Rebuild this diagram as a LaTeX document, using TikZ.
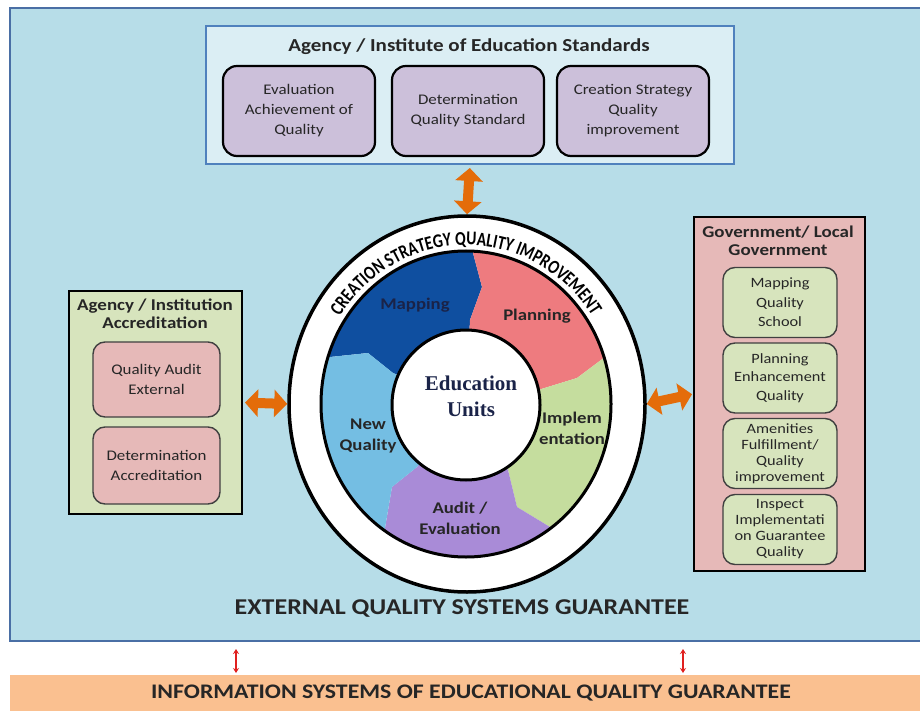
\documentclass[tikz,border=0pt]{standalone}
\usepackage{fontspec}
\setmainfont{Carlito}[FakeStretch=1.15]
\newfontfamily\ringfamily{Carlito}[FakeStretch=0.8]
\newfontfamily\eduserif{Liberation Serif}
\usetikzlibrary{arrows.meta,decorations.text,shapes.geometric}
\definecolor{mainblue}{HTML}{B7DDE8}
\definecolor{mainborder}{HTML}{4A6FA5}
\definecolor{topfill}{HTML}{DBEEF4}
\definecolor{topborder}{HTML}{4F81BD}
\definecolor{purplebox}{HTML}{CCC0DA}
\definecolor{greenbox}{HTML}{D7E4BD}
\definecolor{pinkbox}{HTML}{E6B9B8}
\definecolor{orangearr}{HTML}{E46C0A}
\definecolor{bandcol}{HTML}{FAC090}
\definecolor{segmap}{HTML}{0F4FA0}
\definecolor{segplan}{HTML}{EE7B7F}
\definecolor{segimp}{HTML}{C5DD9E}
\definecolor{segaud}{HTML}{A98BD7}
\definecolor{segnew}{HTML}{74BEE3}
\definecolor{txt}{HTML}{262626}
\definecolor{navy}{HTML}{1A2348}
\definecolor{redarr}{HTML}{E0201F}
\newcommand\ringfnt{\ringfamily\fontsize{19.5}{19.5}\selectfont\bfseries}
\begin{document}
\begin{tikzpicture}[x=1pt,y=1pt,
  purp/.style={draw=black, line width=2.2pt, rounded corners=14pt, fill=purplebox,
    minimum width=152pt, minimum height=90pt, align=center, text=txt, inner sep=0pt,
    font=\fontsize{14.7}{20}\selectfont},
  pinkin/.style={draw=black!75, line width=1.4pt, rounded corners=12pt, fill=pinkbox,
    minimum width=127pt, align=center, text=txt, inner sep=0pt,
    font=\fontsize{14.7}{20}\selectfont},
  greenin/.style={draw=black!75, line width=1.4pt, rounded corners=12pt, fill=greenbox,
    minimum width=114pt, minimum height=70pt, align=center, text=txt, inner sep=0pt},
  container/.style={draw=black, line width=2pt, anchor=north west, inner sep=0pt},
  ttl/.style={font=\fontsize{16.5}{18}\selectfont\bfseries, text=txt, align=center},
  segtxt/.style={font=\fontsize{16.3}{21}\selectfont\bfseries, text=txt, align=center},
  bigarrow/.style={orangearr, line width=10pt,
    {Triangle[width=27pt,length=13pt]}-{Triangle[width=27pt,length=13pt]}},
  smallarrow/.style={redarr, line width=1.4pt,
    {Stealth[width=6pt,length=5pt]}-{Stealth[width=6pt,length=5pt]}}
]
\useasboundingbox (0,0) rectangle (920,-711);
\fill[white] (0,0) rectangle (920,-711);

% main blue frame
\node[draw=mainborder, fill=mainblue, line width=2pt, anchor=north west, inner sep=0pt,
  minimum width=925pt, minimum height=633pt] (main) at (9,-7) {};
\node[font=\fontsize{22.6}{24}\selectfont\bfseries, text=txt] (ext) at (462,-609)
  {EXTERNAL QUALITY SYSTEMS GUARANTEE};

% bottom band
\node[fill=bandcol, anchor=north west, inner sep=0pt, minimum width=915pt, minimum height=40pt]
  (band) at (10,-675) {};
\node[font=\fontsize{20.7}{23}\selectfont\bfseries, text=txt] (bandtxt) at (471,-693)
  {INFORMATION SYSTEMS OF EDUCATIONAL QUALITY GUARANTEE};

% top box
\node[draw=topborder, fill=topfill, line width=2pt, anchor=north west, inner sep=0pt,
  minimum width=528pt, minimum height=138pt] (top) at (205,-25) {};
\node[font=\fontsize{18.3}{20}\selectfont\bfseries, text=txt] (toptitle) at (469,-47)
  {Agency / Institute of Education Standards};
\node[purp] (p1) at (299,-111) {Evaluation\\Achievement of\\Quality};
\node[purp] (p2) at (468,-111) {Determination\\Quality Standard};
\node[purp] (p3) at (633,-111) {Creation Strategy\\Quality\\improvement};

% left box
\node[container, fill=greenbox, minimum width=173pt, minimum height=223pt] (left) at (68,-290) {};
\node[ttl] (lefttitle) at (155,-314) {Agency / Institution\\Accreditation};
\node[pinkin, minimum height=75pt] (l1) at (156.5,-379.5) {Quality Audit\\External};
\node[pinkin, minimum height=77pt] (l2) at (156.5,-465.5) {Determination\\Accreditation};

% right box
\node[container, fill=pinkbox, minimum width=171pt, minimum height=354pt] (right) at (693,-216) {};
\node[ttl] (righttitle) at (778,-241) {Government/ Local\\Government};
\node[greenin, font=\fontsize{14.2}{19.5}\selectfont] (r1) at (780,-302.5) {Mapping\\Quality\\School};
\node[greenin, font=\fontsize{14.2}{18.5}\selectfont] (r2) at (780,-378) {Planning\\Enhancement\\Quality};
\node[greenin, font=\fontsize{14.2}{16}\selectfont] (r3) at (780,-453.5) {Amenities\\Fulfillment/\\Quality\\improvement};
\node[greenin, font=\fontsize{14.2}{16}\selectfont] (r4) at (780,-529.5) {Inspect\\Implementati\\on Guarantee\\Quality};

% outer ring
\node[ellipse, draw=black, line width=3.5pt, fill=white, minimum width=356pt, minimum height=376pt,
  inner sep=0pt] (ring) at (467,-404) {};
\path[decorate, decoration={text along path, text align=center,
    text={|\ringfnt|CREATION STRATEGY QUALITY IMPROVEMENT}}]
  ([shift={(165:151pt and 159pt)}]466,-404) arc[start angle=165, end angle=15, x radius=151pt, y radius=159pt];

% coloured segments
\begin{scope}
\clip (466,-404) ellipse [x radius=145pt, y radius=153pt];
\fill[segmap] (466,-404) -- (393,-373) -- (368,-353) -- (330,-357) -- (250,-350) -- (250,-150)
  -- (475,-150) -- (473,-253) -- (482,-287) -- (470,-320) -- cycle;
\fill[segplan] (466,-404) -- (470,-320) -- (482,-287) -- (473,-253) -- (475,-150) -- (700,-150)
  -- (700,-340) -- (605,-357) -- (577,-378) -- (538,-390) -- cycle;
\fill[segimp] (466,-404) -- (538,-390) -- (577,-378) -- (605,-357) -- (700,-340) -- (700,-600)
  -- (550,-600) -- (550,-527) -- (517,-507) -- (508,-470) -- (503,-463) -- cycle;
\fill[segaud] (466,-404) -- (503,-463) -- (508,-470) -- (517,-507) -- (550,-527) -- (550,-600)
  -- (385,-600) -- (385,-528) -- (392,-487) -- (417,-467) -- cycle;
\fill[segnew] (466,-404) -- (417,-467) -- (392,-487) -- (385,-528) -- (385,-600) -- (250,-600)
  -- (250,-350) -- (330,-357) -- (368,-353) -- (393,-373) -- cycle;
\end{scope}
\draw[black, line width=3pt] (466,-404) ellipse [x radius=145pt, y radius=153pt];

\node[segtxt, text=navy] (smap) at (415,-305) {Mapping};
\node[segtxt] (splan) at (537,-316) {Planning};
\node[segtxt] (simp) at (572,-428) {Implem\\entation};
\node[segtxt] (saud) at (460,-518) {Audit /\\Evaluation};
\node[segtxt] (snew) at (368,-436) {New\\Quality};

% centre
\node[ellipse, draw=black, line width=3pt, fill=white, minimum width=148pt, minimum height=150pt,
  inner sep=0pt] (edu) at (466,-405) {};
\node[align=center, font=\eduserif\fontsize{21}{26}\selectfont\bfseries, text=navy]
  (edutxt) at (471,-396) {Education\\Units};

% orange connectors
\draw[bigarrow, shorten <=3pt] (top.south) -- (ring.north);
\draw[bigarrow, shorten <=2pt] (left.east) -- (ring.west);
\draw[bigarrow, shorten >=1pt] (ring.east) -- (right.west);

% red connectors
\coordinate (ra1) at (236,-649);
\coordinate (ra2) at (236,-673);
\coordinate (rb1) at (683,-649);
\coordinate (rb2) at (683,-673);
\draw[smallarrow] (ra1) -- (ra2);
\draw[smallarrow] (rb1) -- (rb2);
\end{tikzpicture}
\end{document}
